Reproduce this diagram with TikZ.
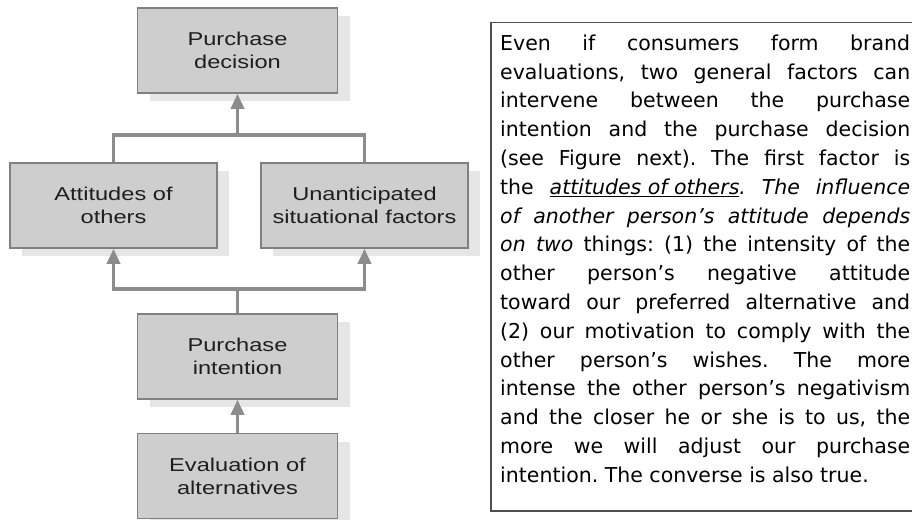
\documentclass[tikz,border=0pt]{standalone}
\usepackage{fontspec}
\setmainfont{DejaVu Sans}
\newfontfamily\labelfont[FakeStretch=1.27]{Liberation Sans}
\usetikzlibrary{arrows.meta,shadows}

\definecolor{boxfill}{RGB}{206,206,206}
\definecolor{boxedge}{RGB}{128,128,128}
\definecolor{linkgray}{RGB}{140,140,140}
\definecolor{shadowgray}{RGB}{230,230,230}
\definecolor{labelink}{RGB}{30,30,30}
\definecolor{frameedge}{RGB}{80,80,80}

\begin{document}
\frenchspacing
\begin{tikzpicture}[x=1pt,y=-1pt,
  stage/.style={draw=boxedge, line width=1.5pt, fill=boxfill,
    minimum height=85pt, inner sep=0pt, align=center, text=labelink,
    font=\labelfont\fontsize{18.6}{23}\selectfont,
    drop shadow={shadow xshift=12pt, shadow yshift=-8pt, fill=shadowgray, opacity=1}},
  link/.style={draw=linkgray, line width=3.5pt},
  flow/.style={link, -{Triangle[width=13pt,length=15pt]}},
]
\useasboundingbox (0,0) rectangle (912,519);

% decision stages
\node[stage, minimum width=200pt] (pd) at (237.5,50.5) {Purchase\\decision};
\node[stage, minimum width=207pt] (ao) at (113.5,205.5) {Attitudes of\\others};
\node[stage, minimum width=207pt] (us) at (364.5,205.5) {Unanticipated\\situational factors};
\node[stage, minimum width=200pt] (pi) at (237.5,356.5) {Purchase\\intention};
\node[stage, minimum width=200pt] (ev) at (237.5,476) {Evaluation of\\alternatives};

% branch points
\coordinate (jt) at (237.5,135);
\coordinate (jb) at (237.5,289);

% connectors
\draw[link] (ao.north) |- (jt) -| (us.north);
\draw[flow] (jt) -- (pd.south);
\draw[link] (pi.north) -- (jb);
\draw[flow] (jb) -| (ao.south);
\draw[flow] (jb) -| (us.south);
\draw[flow] (ev.north) -- (pi.south);

% explanatory text panel
\node[draw=frameedge, line width=1.5pt, minimum width=430pt, minimum height=488pt,
  anchor=north west, inner sep=0pt] (frame) at (490,22) {};
\node[anchor=north west, inner sep=0pt, text width=410pt, align=justify,
  font=\fontsize{20.5}{28.8}\selectfont] (note) at (500,34.5) {%
\frenchspacing\hyphenpenalty=10000\tolerance=9999%
Even if consumers form brand\linebreak
evaluations, two general factors can\linebreak
intervene between the purchase\linebreak
intention and the purchase decision\linebreak
(see Figure next). The first factor is\linebreak
the \underline{\textit{attitudes of others}}\textit{. The influence\linebreak
of another person’s attitude depends\linebreak
on two} things: (1) the intensity of the\linebreak
other person’s negative attitude\linebreak
toward our preferred alternative and\linebreak
(2) our motivation to comply with the\linebreak
other person’s wishes. The more\linebreak
intense the other person’s negativism\linebreak
and the closer he or she is to us, the\linebreak
more we will adjust our purchase\linebreak
intention. The converse is also true.};
\end{tikzpicture}
\end{document}
